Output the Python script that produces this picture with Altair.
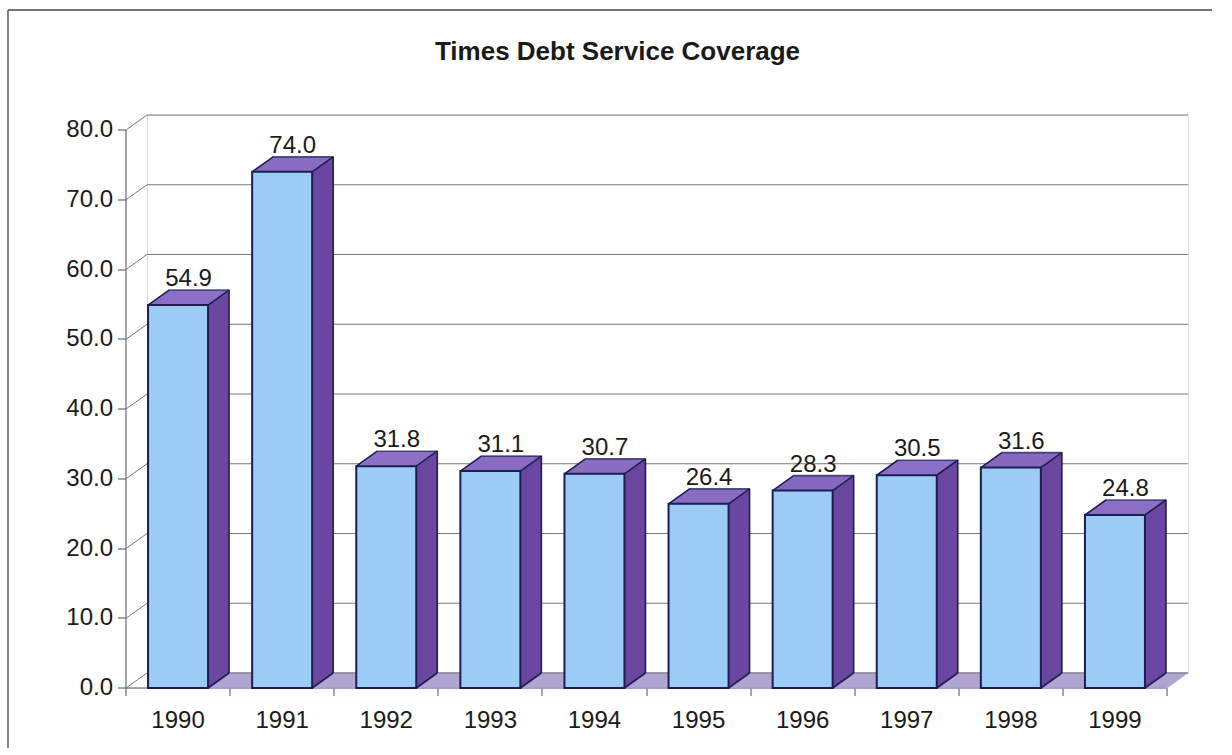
import altair as alt
import pandas as pd

# ---- data ----
years = ["1990", "1991", "1992", "1993", "1994", "1995", "1996", "1997", "1998", "1999"]
values = [54.9, 74.0, 31.8, 31.1, 30.7, 26.4, 28.3, 30.5, 31.6, 24.8]
y_ticks = [0, 10, 20, 30, 40, 50, 60, 70, 80]
title_text = "Times Debt Service Coverage"

# ---- layout / style ----
W, H = 1041, 558           # back wall (plot area)
PAD_L, PAD_T = 147, 115
TOTAL_W, TOTAL_H = 1232, 748
DX, DY = 21, 15            # depth of the 3D effect in pixels
N = 15                     # number of depth steps
BAR = 60                   # bar front width
FRONT = "#9ccbf5"
SIDE = "#6b47a3"
TOP = "#9479cf"
EDGE = "#1c1f4e"
FLOOR = "#ab9fce"
GRID = "#7a7a7a"
AXIS = "#4a4a5e"
TXT = "#1a1a1a"
FONT = "Liberation Sans"
FS = 24

df = pd.DataFrame({"year": years, "value": values})
grid_df = pd.DataFrame({"v": y_ticks})
one = pd.DataFrame({"a": [0]})

xs = alt.Scale(domain=years, paddingInner=0, paddingOuter=0)
ys = alt.Scale(domain=[0, 80], nice=False, zero=True)

x_axis = alt.Axis(offset=DX + DY, translate=-DX, tickBand="extent", labelAngle=0,
                  labelFontSize=FS, labelFont=FONT, labelColor=TXT, labelPadding=13,
                  tickSize=8, tickColor=AXIS, domainColor=AXIS, grid=False, title=None)
y_axis = alt.Axis(values=y_ticks, format=".1f", offset=DX + DY, translate=DY,
                  labelFontSize=FS, labelFont=FONT, labelColor=TXT, labelPadding=5,
                  tickSize=8, tickColor=AXIS, domainColor=AXIS, grid=False, title=None)


def X():
    return alt.X("year:N", scale=xs, axis=x_axis)


def Y(field="value:Q"):
    return alt.Y(field, scale=ys, axis=y_axis)


def Y0():
    return alt.Y(datum=0, scale=ys, axis=y_axis)


layers = []

# outer frame (left and top edges visible in the reference)
layers.append(alt.Chart(one).mark_rule(color="#444444", strokeWidth=1.3).encode(
    x=alt.value(8 - PAD_L), x2=alt.value(8 - PAD_L),
    y=alt.value(10 - PAD_T), y2=alt.value(TOTAL_H - PAD_T)))
layers.append(alt.Chart(one).mark_rule(color="#444444", strokeWidth=1.3).encode(
    x=alt.value(8 - PAD_L), x2=alt.value(1212 - PAD_L),
    y=alt.value(10 - PAD_T), y2=alt.value(10 - PAD_T)))

# floor (parallelogram built from stacked rules)
for k in range(N + 1):
    t = k / N
    xo = -DX * (1 - t)
    yo = DY * (1 - t)
    layers.append(alt.Chart(one).mark_rule(
        color=FLOOR, strokeWidth=1.6, xOffset=xo, x2Offset=xo, yOffset=yo, y2Offset=yo
    ).encode(y=Y0()))

# back-wall gridlines
layers.append(alt.Chart(grid_df).mark_rule(color=GRID, strokeWidth=1).encode(y=Y("v:Q")))

# left-wall diagonals
layers.append(alt.Chart(grid_df).mark_rule(
    color=GRID, strokeWidth=1, xOffset=-DX, x2Offset=0, yOffset=DY, y2Offset=0
).encode(x=alt.value(0), x2=alt.value(0), y=Y("v:Q"), y2=alt.Y2("v")))

# side faces: stacked dark copies from back to front
for k in range(N, 0, -1):
    t = k / N
    xo = -DX + DX * t
    yo = DY - DY * t
    layers.append(alt.Chart(df).mark_bar(
        size=BAR, color=SIDE, xOffset=xo, yOffset=yo, y2Offset=yo
    ).encode(x=X(), y=Y(), y2=alt.Y2(datum=0)))

# top faces: light strips
for k in range(N, 0, -1):
    t = k / N
    xo = -DX + DX * t
    yo = DY - DY * t
    layers.append(alt.Chart(df).mark_tick(
        size=BAR, thickness=1.4, color=TOP, orient="horizontal", xOffset=xo, yOffset=yo + 0.5
    ).encode(x=X(), y=Y()))

# edges of the prism
layers.append(alt.Chart(df).mark_tick(
    size=BAR + 1, thickness=1.6, color=EDGE, orient="horizontal").encode(x=X(), y=Y()))
layers.append(alt.Chart(df).mark_rule(color=EDGE, strokeWidth=1.6, xOffset=BAR / 2).encode(
    x=X(), y=Y(), y2=alt.Y2(datum=0)))
for sx in (-BAR / 2, BAR / 2):
    layers.append(alt.Chart(df).mark_rule(
        color=EDGE, strokeWidth=1.6, xOffset=sx - DX, x2Offset=sx, yOffset=DY, y2Offset=0
    ).encode(x=X(), x2=alt.X2("year"), y=Y(), y2=alt.Y2("value")))
layers.append(alt.Chart(df).mark_rule(
    color=EDGE, strokeWidth=1.6, xOffset=BAR / 2 - DX, x2Offset=BAR / 2, yOffset=DY, y2Offset=0
).encode(x=X(), x2=alt.X2("year"), y=Y0(), y2=alt.Y2(datum=0)))

# front faces
layers.append(alt.Chart(df).mark_bar(
    size=BAR, color=FRONT, stroke=EDGE, strokeWidth=2, xOffset=-DX, yOffset=DY, y2Offset=DY
).encode(x=X(), y=Y(), y2=alt.Y2(datum=0)))

# value labels
layers.append(alt.Chart(df).mark_text(
    fontSize=FS, font=FONT, color=TXT, dx=-DX / 2, dy=-4, baseline="alphabetic", align="center"
).encode(x=X(), y=Y(), text=alt.Text("value:Q", format=".1f")))

chart = alt.layer(*layers).properties(
    width=W, height=H,
    title=alt.TitleParams(title_text, fontSize=26, font=FONT, fontWeight="bold", color=TXT,
                          anchor="middle", frame="group", offset=0, dx=-50, dy=77,
                          baseline="alphabetic"),
    autosize=alt.AutoSizeParams(type="none"),
    padding={"left": PAD_L, "top": PAD_T, "right": TOTAL_W - PAD_L - W,
             "bottom": TOTAL_H - PAD_T - H},
).configure_view(stroke=GRID, strokeWidth=1).configure(background="white")

chart.save("out.html", embed_options={"renderer": "svg", "actions": False})
